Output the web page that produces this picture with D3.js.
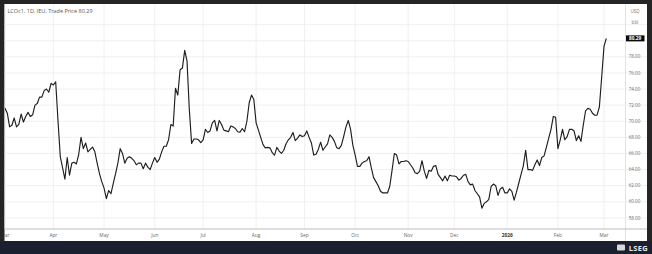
<!DOCTYPE html>
<html><head><meta charset="utf-8">
<script src="https://cdn.jsdelivr.net/npm/d3@7"></script>
<style>html,body{margin:0;padding:0;background:#252525;}svg{display:block;}</style>
</head><body>
<svg id="c" width="652" height="254"></svg>
<script>
// Daily (weekday) closes, LCOc1 from 3 Mar 2025 to 3 Mar 2026
const prices = [
71.6,71.0,69.3,69.5,70.4,69.3,69.6,70.9,69.9,70.6,
71.1,70.6,70.8,72.0,72.2,73.0,73.0,73.8,74.0,73.6,
74.7,74.5,74.9,70.1,65.6,64.2,62.8,65.5,63.3,64.8,
64.9,64.7,65.9,68.0,66.6,67.3,66.2,66.5,66.8,66.2,
64.8,63.5,62.5,61.7,60.4,61.4,61.0,62.3,63.5,64.8,
66.6,66.0,64.8,65.4,65.6,65.4,65.1,64.6,64.8,64.8,
64.1,64.8,64.3,64.0,64.8,65.5,64.9,65.3,66.2,66.9,
66.9,67.7,69.6,69.4,74.1,73.25,76.4,76.6,78.8,77.5,
71.5,67.25,67.8,67.8,67.7,67.35,67.7,69.0,68.6,68.8,
69.8,70.1,68.8,70.1,69.6,68.9,68.8,68.7,69.4,69.3,
69.1,68.7,68.65,69.1,68.7,70.0,72.3,73.25,72.7,69.8,
68.9,68.0,67.1,66.7,66.75,66.7,66.1,65.8,66.75,66.3,
66.0,66.4,67.2,67.7,68.0,68.6,67.6,67.9,68.3,68.1,
68.2,68.8,68.0,67.3,65.8,65.9,66.5,67.4,66.4,66.8,
67.2,68.3,68.0,67.5,66.7,66.6,67.0,68.1,69.3,70.1,
69.0,67.0,65.8,64.4,64.4,64.8,65.0,65.1,65.6,64.2,
63.0,62.5,62.0,61.3,61.1,61.1,61.1,61.9,63.9,66.0,
65.8,64.7,65.0,65.0,65.1,65.0,64.6,64.2,63.6,63.5,
63.8,65.1,63.8,62.9,63.9,63.8,64.4,64.5,63.4,63.0,
62.6,63.2,62.6,63.3,63.2,63.2,63.1,62.7,62.9,63.3,
63.4,62.5,62.1,62.2,61.4,61.0,60.6,59.2,59.8,60.0,
60.3,61.9,62.2,62.0,60.8,61.6,61.8,61.1,61.1,61.6,
61.3,60.2,61.2,62.3,63.4,64.5,66.4,64.0,64.0,63.9,
64.6,65.2,64.5,65.5,65.7,66.8,67.9,69.0,70.6,70.5,
66.6,67.7,69.0,67.7,68.1,69.0,69.0,68.8,67.6,68.2,
67.5,69.5,71.3,71.6,71.5,71.0,70.75,70.75,71.8,75.5,
79.3,80.29
];
const startDate = "2025-03-03";
const endDate = "2026-03-04";
const yTicks = [58,60,62,64,66,68,70,72,74,76,78];
const yGrid = [58,60,62,64,66,68,70,72,74,76,78,80,82];
const titleText = "LCOc1, 1D, IEU, Trade Price  80.29";
const lastLabel = "80.29";
const unitLines = ["USD","bbl"];

const svg = d3.select("#c");
const W = 652, H = 254;
const pl = 4.5, pr = 625.5, pt = 4, pb = 229;

// frame
svg.append("rect").attr("x",0).attr("y",0).attr("width",W).attr("height",H).attr("fill","#252525");
svg.append("rect").attr("x",0).attr("y",241).attr("width",W).attr("height",13).attr("fill","#1b2030");
svg.append("rect").attr("x",pl).attr("y",pt).attr("width",647-pl).attr("height",241-pt).attr("fill","#ffffff");

const parse = d3.utcParse("%Y-%m-%d");
const days = d3.utcDay.range(parse(startDate), parse(endDate)).filter(d => d.getUTCDay() !== 0 && d.getUTCDay() !== 6);
const n = Math.min(days.length, prices.length);
const data = d3.range(n).map(i => ({i, date: days[i], v: prices[i]}));

const x = d3.scaleLinear().domain([0, 260]).range([5, 604]);
const y = d3.scaleLinear().domain([58, 82]).range([217.9, 24.6]);

// month ticks: first weekday of each month
const monthTicks = data.filter((d, k) => k === 0 || d.date.getUTCMonth() !== data[k-1].date.getUTCMonth());

const gGrid = svg.append("g");
gGrid.selectAll("line.h").data(yGrid).join("line")
  .attr("x1", pl).attr("x2", 647).attr("y1", d => y(d)).attr("y2", d => y(d))
  .attr("stroke", "#ececec").attr("stroke-width", 0.8);
gGrid.selectAll("line.v").data(monthTicks).join("line")
  .attr("x1", d => x(d.i)).attr("x2", d => x(d.i)).attr("y1", pt).attr("y2", pb)
  .attr("stroke", "#ececec").attr("stroke-width", 0.8);

// axis separators
svg.append("line").attr("x1", pr).attr("x2", pr).attr("y1", pt).attr("y2", 241).attr("stroke","#dcdcdc").attr("stroke-width",0.8);
svg.append("line").attr("x1", pl).attr("x2", 647).attr("y1", pb).attr("y2", pb).attr("stroke","#bdbdbd").attr("stroke-width",1);

// line
svg.append("defs").append("clipPath").attr("id","clip").append("rect")
  .attr("x", pl).attr("y", pt).attr("width", pr-pl).attr("height", pb-pt);
const line = d3.line().x(d => x(d.i)).y(d => y(d.v));
svg.append("path").datum(data).attr("d", line).attr("clip-path","url(#clip)")
  .attr("fill","none").attr("stroke","#1e1e1e").attr("stroke-width",1.15).attr("stroke-linejoin","round");

// y labels
const fontF = "'Open Sans', 'Noto Sans', sans-serif";
svg.append("g").selectAll("text").data(yTicks).join("text")
  .attr("x", 634.5).attr("y", d => y(d)).attr("dy","0.35em").attr("text-anchor","middle")
  .attr("font-family", fontF).attr("font-size", 4.6).attr("fill","#6a6a6a")
  .text(d => d3.format(".2f")(d));
svg.append("g").selectAll("text").data(unitLines).join("text")
  .attr("x", 635).attr("y", (d,k) => 11 + k*11).attr("dy","0.35em").attr("text-anchor","middle")
  .attr("font-family", fontF).attr("font-size", 4.6).attr("fill","#777").text(d => d);

// last value tag
const lastY = y(prices[n-1]);
svg.append("rect").attr("x", 626).attr("y", lastY-3).attr("width", 18.5).attr("height", 6).attr("fill","#0a0a0a");
svg.append("text").attr("x", 635.2).attr("y", lastY).attr("dy","0.35em").attr("text-anchor","middle")
  .attr("font-family", fontF).attr("font-size", 4.8).attr("font-weight","bold").attr("fill","#fff").text(lastLabel);

// x labels
svg.select("defs").append("clipPath").attr("id","clipx").append("rect")
  .attr("x", pl).attr("y", pb).attr("width", pr-pl).attr("height", 12);
svg.append("g").selectAll("text").data(monthTicks).join("text")
  .attr("x", d => x(d.i)).attr("y", 235.5).attr("dy","0.35em").attr("text-anchor","middle")
  .attr("clip-path","url(#clipx)")
  .attr("font-family", fontF).attr("font-size", 4.8)
  .attr("font-weight", d => d.date.getUTCMonth() === 0 ? "bold" : "normal")
  .attr("fill", d => d.date.getUTCMonth() === 0 ? "#333333" : "#666666")
  .text(d => d.date.getUTCMonth() === 0 ? d3.utcFormat("%Y")(d.date) : d3.utcFormat("%b")(d.date));

// title
svg.append("text").attr("x", 7.5).attr("y", 11).attr("dy","0.35em")
  .attr("font-family", fontF).attr("font-size", 5.5).attr("fill","#555").text(titleText);

// LSEG mark
svg.append("text").attr("x", 648).attr("y", 248).attr("dy","0.35em").attr("text-anchor","end")
  .attr("font-family", "'Open Sans', sans-serif").attr("font-size", 7.5).attr("font-weight","bold")
  .attr("fill","#e8e8e8").attr("letter-spacing", 0.3).text("LSEG");
svg.append("rect").attr("x", 617).attr("y", 244.5).attr("width", 8).attr("height", 6).attr("rx",1).attr("fill","#d8d8d8");
</script>
</body></html>
